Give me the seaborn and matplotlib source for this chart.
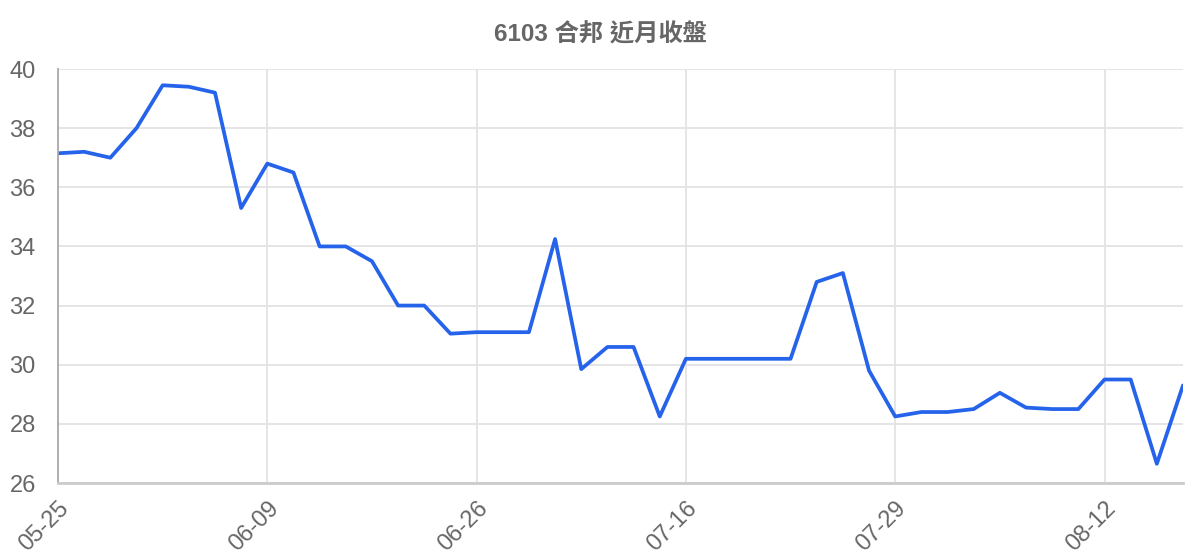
import matplotlib
matplotlib.use("Agg")
import matplotlib.pyplot as plt
import matplotlib.transforms as mtransforms
import seaborn as sns
import pandas as pd

# ------------------------------------
# Data
# ------------------------------------
close_prices = [
    37.15, 37.2, 37.0, 38.0, 39.45, 39.4, 39.2, 35.3, 36.8, 36.5,
    34.0, 34.0, 33.5, 32.0, 32.0, 31.05, 31.1, 31.1, 31.1, 34.25,
    29.85, 30.6, 30.6, 28.25, 30.2, 30.2, 30.2, 30.2, 30.2, 32.8,
    33.1, 29.8, 28.25, 28.4, 28.4, 28.5, 29.05, 28.55, 28.5, 28.5,
    29.5, 29.5, 26.65, 29.3,
]
tick_labels = ["05-25", "06-09", "06-26", "07-16", "07-29", "08-12"]
tick_every = 8
y_ticks = [26, 28, 30, 32, 34, 36, 38, 40]
title = "6103 合邦 近月收盤"

df = pd.DataFrame({"idx": range(len(close_prices)), "close": close_prices})

# ------------------------------------
# Style
# ------------------------------------
sns.set_style("white")
plt.rcParams["font.family"] = ["Liberation Sans", "Noto Sans CJK TC", "DejaVu Sans"]

text_gray = "#666666"
grid_gray = "#e3e3e3"

fig = plt.figure(figsize=(12, 5.6), dpi=100)
ax = fig.add_axes([58 / 1200, 1 - 483 / 560, (1183 - 58) / 1200, (483 - 69) / 560])

sns.lineplot(data=df, x="idx", y="close", ax=ax, color="#2563eb", linewidth=2.7)

ax.set_xlim(0, len(close_prices) - 1)
ax.set_ylim(26, 40)

xticks = list(range(0, len(close_prices), tick_every))
ax.set_xticks(xticks)
ax.set_xticklabels(tick_labels, rotation=45, ha="right", rotation_mode="anchor")
ax.set_yticks(y_ticks)

# nudge rotated labels a little left/down like the reference
shift = mtransforms.ScaledTranslation(-5 / 100, -2 / 100, fig.dpi_scale_trans)
for lbl in ax.get_xticklabels():
    lbl.set_transform(lbl.get_transform() + shift)

ax.grid(True, color=grid_gray, linewidth=1.3)
ax.set_axisbelow(True)

ax.tick_params(axis="y", length=14, width=1.3, color=grid_gray, labelsize=17,
               labelcolor=text_gray, pad=2)
ax.tick_params(axis="x", length=6, width=1.3, color=grid_gray, labelsize=17,
               labelcolor=text_gray, pad=4)

for side in ["top", "right"]:
    ax.spines[side].set_visible(False)
ax.spines["left"].set_color("#aaaaaa")
ax.spines["left"].set_linewidth(1.3)
ax.spines["bottom"].set_color("#cccccc")
ax.spines["bottom"].set_linewidth(2)

ax.set_xlabel("")
ax.set_ylabel("")

fig.text(0.5, 1 - 35 / 560, title, ha="center", va="center",
         fontsize=17.5, fontweight="bold", color=text_gray)

fig.savefig("out.png", dpi=100)
plt.close(fig)
